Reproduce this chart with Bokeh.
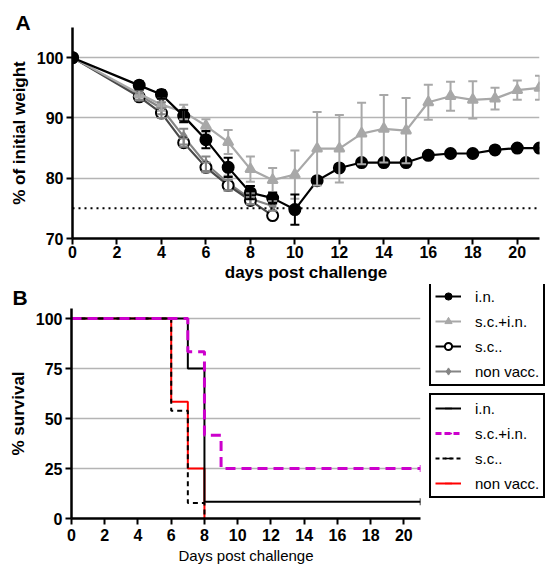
import math
from bokeh.plotting import figure
from bokeh.models import (Range1d, FixedTicker, Whisker, TeeHead, ColumnDataSource,
                          Span, Legend, LegendItem, Title)
from bokeh.layouts import column, row
from bokeh.embed import file_html
from bokeh.resources import INLINE

# ---------------- data: panel A (weight) ----------------
days_in = [0, 3, 4, 5, 6, 7, 8, 9, 10, 11, 12, 13, 14, 15, 16, 17, 18, 19, 20, 21]
weight_in = [100, 95.4, 93.9, 90.3, 86.4, 81.8, 77.6, 76.7, 74.8, 79.6, 81.7, 82.6, 82.6, 82.6,
             83.8, 84.1, 84.1, 84.7, 85.0, 85.0]
sem_in = [0, 0.7, 0.7, 1.0, 1.45, 1.6, 1.1, 0.9, 2.5, 0, 0, 0, 0, 0, 0, 0, 0, 0, 0, 0]

days_scin = [0, 3, 4, 5, 6, 7, 8, 9, 10, 11, 12, 13, 14, 15, 16, 17, 18, 19, 20, 21]
weight_scin = [100, 94.0, 92.2, 91.0, 88.7, 86.0, 81.5, 79.7, 80.6, 84.9, 84.9, 87.4, 88.2, 87.9,
               92.6, 93.6, 93.0, 93.2, 94.6, 95.0]
sem_scin = [0, 0.6, 1.0, 1.2, 1.1, 2.0, 2.1, 2.0, 4.0, 6.1, 5.6, 5.1, 5.6, 5.4,
            2.9, 2.4, 3.1, 1.8, 1.6, 2.0]

days_sc = [0, 3, 4, 5, 6, 7, 8, 9]
weight_sc = [100, 93.5, 90.8, 85.9, 81.8, 78.8, 76.3, 73.8]
sem_sc = [0, 0.6, 0.8, 0.7, 0.8, 0.9, 0.6, 0]

days_nv = [0, 3, 4, 5, 6, 7, 8, 9]
weight_nv = [100, 93.8, 91.6, 86.9, 82.4, 79.2, 76.6, 75.4]
sem_nv = [0, 0.8, 1.0, 1.3, 1.2, 1.2, 0.9, 0.8]

weight_threshold = 75
xticks = [0, 2, 4, 6, 8, 10, 12, 14, 16, 18, 20]
yticks_A = [70, 80, 90, 100]
yticks_B = [0, 25, 50, 75, 100]

# ---------------- data: panel B (survival) ----------------
surv_days_in = [0, 7, 8, 21]
surv_in = [100, 75, 8.33, 8.33]
surv_days_scin = [0, 7, 8, 9, 21]
surv_scin = [100, 83.33, 41.67, 25, 25]
surv_days_sc = [0, 6, 7, 8]
surv_sc = [100, 53.85, 7.69, 0]
surv_days_nv = [0, 6, 7, 8]
surv_nv = [100, 58.33, 25, 0]
censor_days_in = [21]
censor_in = [8.33]
censor_days_scin = [21]
censor_scin = [25]

labels = ["i.n.", "s.c.+i.n.", "s.c..", "non vacc."]

FONT = "Liberation Sans"
C_IN = "black"
C_SCIN = "#a8a8a8"
C_SC_LINE = "#4a4a4a"
C_NV = "#858585"
MAGENTA = "#cc00cc"
RED = "#ff0000"


def style(p, yticks):
    for ax in (p.xaxis, p.yaxis):
        ax.axis_line_width = 2.5
        ax.axis_line_color = "black"
        ax.major_tick_line_width = 2
        ax.major_tick_line_color = "black"
        ax.major_tick_out = 6
        ax.major_tick_in = 0
        ax.minor_tick_line_color = None
        ax.major_label_text_font = FONT
        ax.major_label_text_font_size = "16px"
        ax.major_label_text_font_style = "bold"
        ax.major_label_text_color = "black"
        ax.axis_label_text_font = FONT
        ax.axis_label_text_color = "black"
        ax.axis_label_text_font_size = "17px"
        ax.axis_label_text_font_style = "bold"
    p.xaxis.ticker = FixedTicker(ticks=xticks)
    p.yaxis.ticker = FixedTicker(ticks=yticks)
    p.xaxis.major_label_standoff = 1
    p.yaxis.major_label_standoff = 3
    p.yaxis.axis_label_standoff = 5
    p.outline_line_color = None
    p.xgrid.grid_line_color = None
    p.ygrid.grid_line_color = "#b4b4b4"
    p.ygrid.grid_line_width = 1.3
    p.background_fill_color = "white"
    p.border_fill_color = "white"


# ---------------- panel A ----------------
pA = figure(width=550, height=284, x_range=Range1d(0, 21), y_range=Range1d(70, 105),
            output_backend="svg", toolbar_location=None, frame_align=False,
            min_border_left=72, min_border_right=11, min_border_top=27, min_border_bottom=46)
style(pA, yticks_A)
pA.xaxis.axis_label = "days post challenge"
pA.xaxis.axis_label_standoff = 2
pA.yaxis.axis_label = "% of initial weight"
pA.add_layout(Title(text="A", align="left", offset=-57, standoff=-13, text_font=FONT,
                    text_font_size="21px", text_font_style="bold", text_color="black"), "above")

pA.add_layout(Span(location=weight_threshold, dimension="width", line_color="black",
                   line_width=2, line_dash="2 4"))


def add_series(days, vals, sems, line_color, marker, size, fill, mline, bar_color):
    lo = [v - s for v, s in zip(vals, sems) if s > 0]
    hi = [v + s for v, s in zip(vals, sems) if s > 0]
    xb = [d for d, s in zip(days, sems) if s > 0]
    src_e = ColumnDataSource(dict(x=xb, lower=lo, upper=hi))
    w = Whisker(source=src_e, base="x", lower="lower", upper="upper",
                line_color=bar_color, line_width=2, level="glyph",
                upper_head=TeeHead(size=9, line_color=bar_color, line_width=2),
                lower_head=TeeHead(size=9, line_color=bar_color, line_width=2))
    pA.add_layout(w)
    src = ColumnDataSource(dict(x=days, y=vals))
    pA.line("x", "y", source=src, line_color=line_color, line_width=2.2)
    pA.scatter("x", "y", source=src, marker=marker, size=size, fill_color=fill,
               line_color=mline, line_width=2)


add_series(days_nv, weight_nv, sem_nv, C_NV, "diamond", 9, C_NV, C_NV, C_NV)
add_series(days_sc, weight_sc, sem_sc, C_SC_LINE, "circle", 11, "white", "black", C_NV)
add_series(days_scin, weight_scin, sem_scin, C_SCIN, "triangle", 10, C_SCIN, C_SCIN, C_SCIN)
add_series(days_in, weight_in, sem_in, C_IN, "circle", 11, "black", "black", "black")

# ---------------- panel B ----------------
pB = figure(width=422, height=283, x_range=Range1d(0, 21), y_range=Range1d(0, 105),
            output_backend="svg", toolbar_location=None, frame_align=False,
            min_border_left=71, min_border_right=2, min_border_top=23, min_border_bottom=49)
style(pB, yticks_B)
pB.xaxis.axis_label = "Days post challenge"
pB.xaxis.axis_label_text_font_style = "normal"
pB.xaxis.axis_label_text_font_size = "15px"
pB.xaxis.major_label_standoff = 4
pB.xaxis.axis_label_standoff = 3
pB.yaxis.axis_label = "% survival"
pB.add_layout(Title(text="B", align="left", offset=-59, standoff=-1, text_font=FONT,
                    text_font_size="21px", text_font_style="bold", text_color="black"), "above")

pB.step(surv_days_nv, surv_nv, mode="after", line_color=RED, line_width=2)
pB.step(surv_days_sc, surv_sc, mode="after", line_color="black", line_width=2,
        line_dash="5 4")
pB.step(surv_days_in, surv_in, mode="after", line_color="black", line_width=2)
pB.step(surv_days_scin, surv_scin, mode="after", line_color=MAGENTA, line_width=3,
        line_dash="10 6")
pB.scatter(censor_days_in, censor_in, marker="dash", angle=math.pi / 2, size=7,
           line_color="black", line_width=1.5)
pB.scatter(censor_days_scin, censor_scin, marker="dash", angle=math.pi / 2, size=7,
           line_color=MAGENTA, line_width=1.5)

# ---------------- legend area (proxies out of view) ----------------
pL = figure(width=128, height=283, x_range=Range1d(-200, -199), y_range=Range1d(-200, -199),
            output_backend="svg", toolbar_location=None, frame_align=False,
            x_axis_location=None, y_axis_location=None,
            min_border_left=0, min_border_right=0, min_border_top=0, min_border_bottom=0)
pL.outline_line_color = None
pL.xgrid.grid_line_color = None
pL.ygrid.grid_line_color = None


def proxy_line(xs, ys, color, dash="solid", width=2):
    return pL.line(xs, ys, line_color=color, line_width=width, line_dash=dash)


def proxy_marker(xs, ys, marker, fill, line, width=1, size=10):
    return pL.scatter(xs, ys, marker=marker, size=size, fill_color=fill,
                      line_color=line, line_width=width)


def proxy_tick(xs, ys, color):
    return pL.scatter(xs, ys, marker="dash", angle=math.pi / 2, size=7,
                      line_color=color, line_width=1.5)


items1 = [
    LegendItem(label=labels[0], renderers=[proxy_line(days_in, weight_in, C_IN),
                                          proxy_marker(days_in, weight_in, "circle", C_IN, C_IN)]),
    LegendItem(label=labels[1], renderers=[proxy_line(days_scin, weight_scin, C_SCIN),
                                          proxy_marker(days_scin, weight_scin, "triangle", C_SCIN, C_SCIN)]),
    LegendItem(label=labels[2], renderers=[proxy_line(days_sc, weight_sc, "black"),
                                          proxy_marker(days_sc, weight_sc, "circle", "white", "black", 2)]),
    LegendItem(label=labels[3], renderers=[proxy_line(days_nv, weight_nv, C_NV),
                                          proxy_marker(days_nv, weight_nv, "diamond", C_NV, C_NV)]),
]
items2 = [
    LegendItem(label=labels[0], renderers=[proxy_line(surv_days_in, surv_in, "black"),
                                          proxy_tick(surv_days_in, surv_in, "black")]),
    LegendItem(label=labels[1], renderers=[proxy_line(surv_days_scin, surv_scin, MAGENTA, "6 3", 3),
                                          proxy_tick(surv_days_scin, surv_scin, MAGENTA)]),
    LegendItem(label=labels[2], renderers=[proxy_line(surv_days_sc, surv_sc, "black", "4 3"),
                                          proxy_tick(surv_days_sc, surv_sc, "black")]),
    LegendItem(label=labels[3], renderers=[proxy_line(surv_days_nv, surv_nv, RED),
                                          proxy_tick(surv_days_nv, surv_nv, RED)]),
]


def make_legend(items, loc):
    return Legend(items=items, location=loc, border_line_color="black", border_line_width=2,
                  border_line_alpha=1.0,
                  label_text_font=FONT, label_text_font_size="15px", label_text_color="black",
                  glyph_width=26, glyph_height=18, label_height=18, label_standoff=14,
                  spacing=7, padding=4, margin=0, background_fill_color="white",
                  background_fill_alpha=1.0)


pL.add_layout(make_legend(items1, (7, 181)))
pL.add_layout(make_legend(items2, (7, 69)))

layout = column(pA, row(pB, pL, spacing=0), spacing=0)
open("out.html", "w").write(file_html(layout, INLINE))
